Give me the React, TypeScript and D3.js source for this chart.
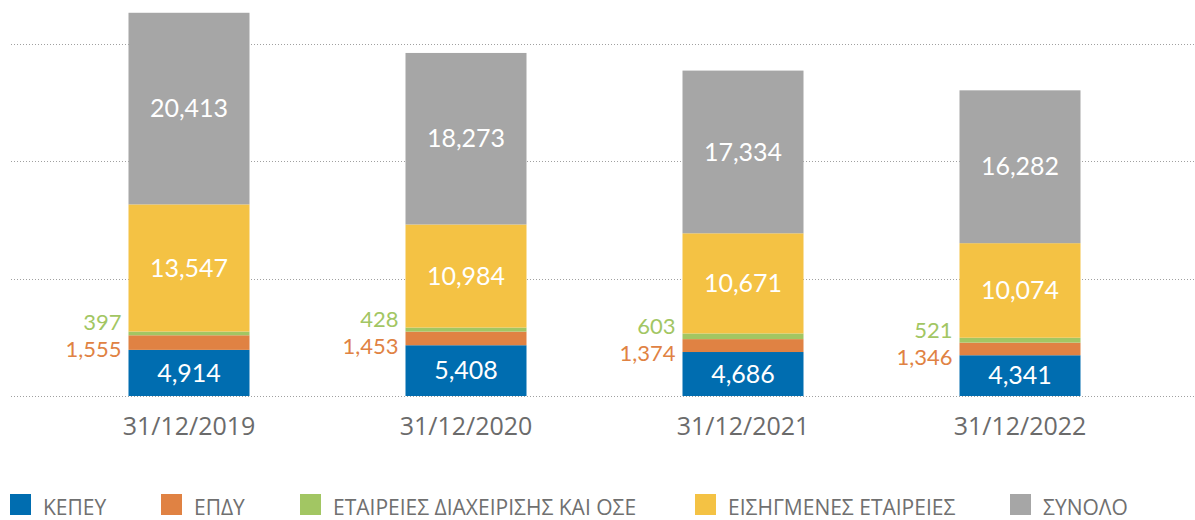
import React, { useEffect, useRef } from 'react';
import * as d3 from 'd3';

// Data
const dates: string[] = ['31/12/2019', '31/12/2020', '31/12/2021', '31/12/2022'];
const kepey: number[] = [4914, 5408, 4686, 4341];
const epdy: number[] = [1555, 1453, 1374, 1346];
const aedak: number[] = [397, 428, 603, 521];
const listed: number[] = [13547, 10984, 10671, 10074];
const total: number[] = [20413, 18273, 17334, 16282];
const gridValues: number[] = [0, 12500, 25000, 37500];

const seriesNames: string[] = ['ΚΕΠΕΥ', 'ΕΠΔΥ', 'ΕΤΑΙΡΕΙΕΣ ΔΙΑΧΕΙΡΙΣΗΣ ΚΑΙ ΟΣΕ', 'ΕΙΣΗΓΜΕΝΕΣ ΕΤΑΙΡΕΙΕΣ', 'ΣΥΝΟΛΟ'];
const seriesColors: string[] = ['#006db0', '#e08243', '#a2c663', '#f4c244', '#a6a6a6'];
const seriesValues: number[][] = [kepey, epdy, aedak, listed, total];

const App: React.FC = () => {
    const chartRef = useRef<HTMLDivElement>(null);

    useEffect(() => {
        if (!chartRef.current) return;
        chartRef.current.innerHTML = '';

        const width = 1195;
        const height = 520;
        const valueFont = 'Lato, "Open Sans", sans-serif';
        const textFont = '"Open Sans", "Noto Sans", sans-serif';

        // rows for d3.stack
        const rows = dates.map((d, i) => {
            const row: Record<string, any> = { date: d };
            seriesNames.forEach((s, k) => (row[s] = seriesValues[k][i]));
            return row;
        });
        const stacked = d3.stack<any>().keys(seriesNames)(rows);

        const x = d3.scalePoint<string>().domain(dates).range([189, 1020]);
        const barWidth = 121;
        const y = d3.scaleLinear().domain([0, 37500]).range([396, 44]);

        const svg = d3
            .create('svg')
            .attr('width', width)
            .attr('height', height)
            .attr('viewBox', [0, 0, width, height])
            .style('display', 'block')
            .style('background', 'white');

        // dotted grid lines
        svg.append('g')
            .selectAll('line')
            .data(gridValues)
            .join('line')
            .attr('x1', 11)
            .attr('x2', width)
            .attr('y1', (d) => Math.round(y(d)) + 0.5)
            .attr('y2', (d) => Math.round(y(d)) + 0.5)
            .attr('stroke', '#a0a0a0')
            .attr('stroke-width', 1)
            .attr('stroke-dasharray', '1,2');

        // stacked bars
        svg.append('g')
            .selectAll('g')
            .data(stacked)
            .join('g')
            .attr('fill', (_, k) => seriesColors[k])
            .selectAll('rect')
            .data((s) => s)
            .join('rect')
            .attr('x', (d) => x(d.data.date)! - barWidth / 2)
            .attr('y', (d) => y(d[1]))
            .attr('width', barWidth)
            .attr('height', (d) => y(d[0]) - y(d[1]));

        // white labels inside the big segments (blue, yellow, grey)
        const inside = [0, 3, 4];
        inside.forEach((k) => {
            svg.append('g')
                .attr('fill', 'white')
                .attr('text-anchor', 'middle')
                .attr('font-family', valueFont)
                .attr('font-size', 25)
                .selectAll('text')
                .data(stacked[k])
                .join('text')
                .attr('x', (d) => x(d.data.date)!)
                .attr('y', (d) => (y(d[0]) + y(d[1])) / 2)
                .attr('dy', '0.35em')
                .text((d, i) => d3.format(',')(seriesValues[k][i]));
        });

        // green and orange labels on the left side of the bars
        const outside = [
            { k: 2, dy: -5 },
            { k: 1, dy: 22 }
        ];
        outside.forEach(({ k, dy }) => {
            svg.append('g')
                .attr('fill', seriesColors[k])
                .attr('text-anchor', 'end')
                .attr('font-family', valueFont)
                .attr('font-size', 22)
                .selectAll('text')
                .data(stacked[1])
                .join('text')
                .attr('x', (d) => x(d.data.date)! - barWidth / 2 - 7)
                .attr('y', (d) => y(d[1]) + dy)
                .text((d, i) => d3.format(',')(seriesValues[k][i]));
        });

        // date labels under the bars
        svg.append('g')
            .attr('fill', '#6b6b6b')
            .attr('text-anchor', 'middle')
            .attr('font-family', textFont)
            .attr('font-size', 25)
            .selectAll('text')
            .data(dates)
            .join('text')
            .attr('x', (d) => x(d)!)
            .attr('y', 435)
            .text((d) => d);

        // legend
        const legendX = [10, 161, 300, 695, 1010];
        const legend = svg.append('g')
            .selectAll('g')
            .data(seriesNames)
            .join('g')
            .attr('transform', (_, k) => `translate(${legendX[k]},494)`);
        legend.append('rect')
            .attr('width', 21)
            .attr('height', 21)
            .attr('fill', (_, k) => seriesColors[k]);
        legend.append('text')
            .attr('x', 33)
            .attr('y', 21)
            .attr('fill', '#707070')
            .attr('font-family', textFont)
            .attr('font-size', 21)
            .text((d) => d);

        chartRef.current.appendChild(svg.node()!);
    }, []);

    return <div ref={chartRef} style={{ position: 'absolute', left: 0, top: 0 }} />;
};

export default App;
